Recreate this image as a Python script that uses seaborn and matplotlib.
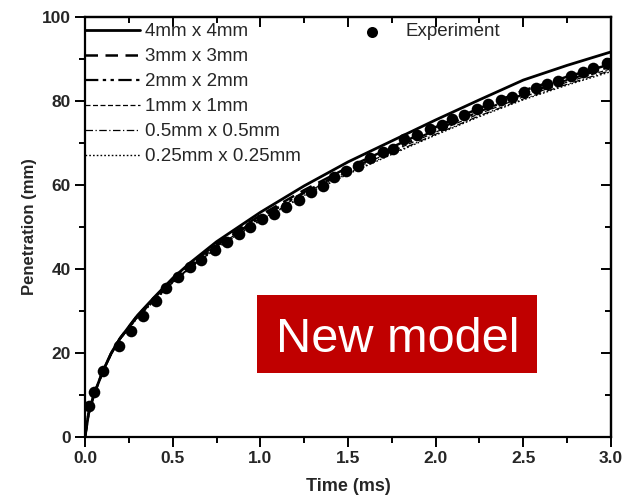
import numpy as np
import pandas as pd
import matplotlib
matplotlib.use("Agg")
import matplotlib.pyplot as plt
import seaborn as sns
from matplotlib.ticker import MultipleLocator, NullFormatter
from matplotlib.patches import Rectangle

# ---- data ----
t_sim = [0, 0.02, 0.05, 0.1, 0.15, 0.2, 0.3, 0.4, 0.5, 0.6, 0.75, 1.0, 1.25, 1.5, 1.75, 2.0, 2.25, 2.5, 2.75, 3.0]
pen_4mm = [0, 5.5, 10, 15.5, 20, 23.5, 29, 33.5, 37.8, 41.5, 46.5, 53.5, 59.8, 65.5, 70.5, 75.5, 80.3, 85.0, 88.5, 91.7]
pen_3mm = [0, 5.5, 10, 15.5, 20, 23.5, 29, 33.3, 37.5, 41.0, 46.0, 52.8, 58.8, 64.2, 69.0, 73.8, 78.3, 82.5, 85.8, 88.8]
pen_2mm = [0, 5.5, 10, 15.5, 20, 23.5, 28.8, 33.0, 37.2, 40.7, 45.6, 52.3, 58.3, 63.6, 68.4, 73.1, 77.5, 81.6, 85.0, 88.2]
pen_1mm = [0, 5.5, 10, 15.4, 19.8, 23.3, 28.6, 32.8, 37.0, 40.5, 45.3, 52.0, 58.0, 63.2, 68.0, 72.6, 77.0, 81.0, 84.5, 87.7]
pen_05mm = [0, 5.5, 10, 15.3, 19.7, 23.2, 28.5, 32.7, 36.8, 40.3, 45.0, 51.7, 57.6, 62.8, 67.5, 72.1, 76.5, 80.5, 84.0, 87.3]
pen_025mm = [0, 5.5, 10, 15.3, 19.7, 23.2, 28.4, 32.6, 36.7, 40.2, 44.9, 51.5, 57.4, 62.6, 67.3, 71.9, 76.3, 80.3, 83.8, 87.0]
series_labels = ["4mm x 4mm", "3mm x 3mm", "2mm x 2mm", "1mm x 1mm", "0.5mm x 0.5mm", "0.25mm x 0.25mm"]

t_exp = [0.025, 0.053, 0.101, 0.192, 0.261, 0.329, 0.403, 0.462, 0.529, 0.599, 0.660, 0.740, 0.808,
         0.880, 0.943, 1.012, 1.078, 1.148, 1.219, 1.287, 1.357, 1.420, 1.489, 1.559, 1.625, 1.701,
         1.758, 1.821, 1.892, 1.968, 2.035, 2.095, 2.162, 2.234, 2.297, 2.373, 2.434, 2.504, 2.571,
         2.633, 2.699, 2.772, 2.839, 2.899, 2.976]
pen_exp = [7.5, 10.6, 15.6, 21.7, 25.2, 28.7, 32.3, 35.4, 38.1, 40.5, 42.1, 44.6, 46.4,
           48.3, 50.1, 51.8, 53.1, 54.8, 56.4, 58.4, 59.8, 61.8, 63.3, 64.5, 66.4, 67.9,
           68.6, 70.9, 71.9, 73.3, 74.2, 75.8, 76.7, 78.0, 79.3, 80.2, 81.0, 82.2, 83.0,
           84.0, 84.8, 86.0, 86.9, 87.8, 89.0]

sns.set_theme(style="ticks")
plt.rcParams['font.family'] = ['Liberation Sans', 'DejaVu Sans']

fig = plt.figure(figsize=(6.25, 4.97), dpi=100)
ax = fig.add_axes([0.136, 0.1207, 0.8416, 0.845])

styles = [
    dict(ls="-", lw=2.0),
    dict(ls=(0, (5, 3)), lw=1.8),
    dict(ls=(0, (6, 2, 1.5, 2, 1.5, 2)), lw=1.6),
    dict(ls=(0, (4, 2)), lw=0.9),
    dict(ls=(0, (6, 2, 1, 2)), lw=0.9),
    dict(ls=(0, (1.2, 1.5)), lw=1.0),
]
all_pen = [pen_4mm, pen_3mm, pen_2mm, pen_1mm, pen_05mm, pen_025mm]
lines = []
for lab, vals, st in zip(series_labels, all_pen, styles):
    df = pd.DataFrame({"t": t_sim, "p": vals})
    sns.lineplot(data=df, x="t", y="p", ax=ax, color="black", linestyle=st["ls"],
                 linewidth=st["lw"], label=lab, legend=False)
    lines.append(ax.lines[-1])

dfe = pd.DataFrame({"t": t_exp, "p": pen_exp})
sns.scatterplot(data=dfe, x="t", y="p", ax=ax, color="black", s=70, edgecolor="black",
                linewidth=0, zorder=5, legend=False)
sc = ax.collections[-1]

ax.set_xlim(0, 3.0)
ax.set_ylim(0, 100)
ax.xaxis.set_major_locator(MultipleLocator(0.5))
ax.xaxis.set_minor_locator(MultipleLocator(0.25))
ax.yaxis.set_major_locator(MultipleLocator(20))
ax.yaxis.set_minor_locator(MultipleLocator(10))
ax.tick_params(which="both", direction="out", width=1.4, color="black")
ax.tick_params(which="major", length=7, labelsize=12.5, pad=3)
ax.tick_params(which="minor", length=4)
for lbl in ax.get_xticklabels() + ax.get_yticklabels():
    lbl.set_fontweight("bold")
for s in ax.spines.values():
    s.set_linewidth(1.6)
    s.set_color("black")

# mirrored inward ticks on top and right
top = ax.secondary_xaxis("top")
top.xaxis.set_major_locator(MultipleLocator(0.5))
top.xaxis.set_minor_locator(MultipleLocator(0.25))
top.xaxis.set_major_formatter(NullFormatter())
top.tick_params(which="both", direction="in", width=1.4, color="black")
top.tick_params(which="major", length=7)
top.tick_params(which="minor", length=4)
top.spines["top"].set_linewidth(1.6)
right = ax.secondary_yaxis("right")
right.yaxis.set_major_locator(MultipleLocator(20))
right.yaxis.set_minor_locator(MultipleLocator(10))
right.yaxis.set_major_formatter(NullFormatter())
right.tick_params(which="both", direction="in", width=1.4, color="black")
right.tick_params(which="major", length=7)
right.tick_params(which="minor", length=4)
right.spines["right"].set_linewidth(1.6)

ax.set_xlabel("Time (ms)", fontsize=13, fontweight="bold", labelpad=9)
ax.set_ylabel("Penetration (mm)", fontsize=12, fontweight="bold", labelpad=4)

leg1 = ax.legend(lines, series_labels, loc="upper left", frameon=False, fontsize=13.5,
                 handlelength=2.95, handletextpad=0.27, labelspacing=0.42,
                 borderpad=0.0, borderaxespad=0.0, bbox_to_anchor=(0.0, 0.985))
ax.add_artist(leg1)
ax.legend([sc], ["Experiment"], loc="upper left", frameon=False, fontsize=13.5,
          bbox_to_anchor=(0.525, 0.985), borderpad=0.0, borderaxespad=0.0,
          handlelength=1.2, handletextpad=1.15, markerscale=0.95)

ax.add_patch(Rectangle((0.327, 0.152), 0.532, 0.186, transform=ax.transAxes,
                       facecolor="#C00000", edgecolor="none", zorder=6))
ax.text(0.594, 0.2024, "New model", transform=ax.transAxes, ha="center", va="baseline",
        fontsize=35, color="white", zorder=7)

fig.savefig("out.png", dpi=100)
